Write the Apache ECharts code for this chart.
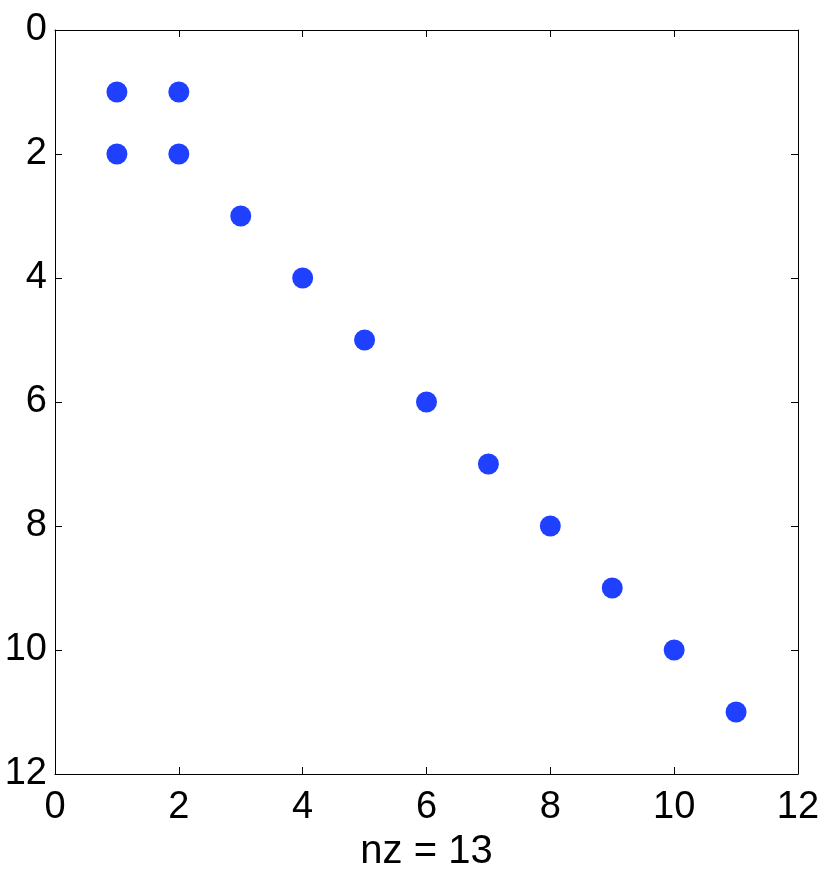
<!DOCTYPE html>
<html>
<head>
<meta charset="utf-8">
<script src="https://cdn.jsdelivr.net/npm/echarts@6/dist/echarts.min.js"></script>
<style>html,body{margin:0;padding:0;background:#fff}#c{width:830px;height:875px}</style>
</head>
<body>
<div id="c"></div>
<script>
// Nonzero pattern (column, row)
const cols = [1, 2, 1, 2, 3, 4, 5, 6, 7, 8, 9, 10, 11];
const rows = [1, 1, 2, 2, 3, 4, 5, 6, 7, 8, 9, 10, 11];
const xTicks = [0, 2, 4, 6, 8, 10, 12];
const yTicks = [0, 2, 4, 6, 8, 10, 12];
const xLabel = 'nz = 13';

const points = cols.map((c, i) => [c, rows[i]]);
const font = 'Liberation Sans, Arial, Helvetica, sans-serif';

const axisCommon = {
  type: 'value', min: 0, max: 12, interval: 2,
  axisLine: { show: true, onZero: false, lineStyle: { color: '#000', width: 1 } },
  axisTick: { show: true, inside: true, length: 7, lineStyle: { color: '#000', width: 1 } },
  splitLine: { show: false }
};

const chart = echarts.init(document.getElementById('c'));
chart.setOption({
  animation: false,
  backgroundColor: '#fff',
  grid: { left: 55, top: 30, right: 32, bottom: 101, containLabel: false, outerBoundsMode: 'none' },
  xAxis: [
    Object.assign({}, axisCommon, {
      position: 'bottom',
      name: xLabel, nameLocation: 'middle', nameGap: 53,
      nameTextStyle: { color: '#000', fontSize: 40, fontFamily: font },
      axisLabel: { color: '#000', fontSize: 38, fontFamily: font, margin: 15,
        formatter: v => xTicks.includes(v) ? String(v) : '' }
    }),
    Object.assign({}, axisCommon, { position: 'top', axisLabel: { show: false } })
  ],
  yAxis: [
    Object.assign({}, axisCommon, {
      position: 'left', inverse: true,
      axisLabel: { color: '#000', fontSize: 38, fontFamily: font, margin: 8,
        formatter: v => yTicks.includes(v) ? String(v) : '' }
    }),
    Object.assign({}, axisCommon, { position: 'right', inverse: true, axisLabel: { show: false } })
  ],
  series: [{
    type: 'scatter',
    xAxisIndex: 0, yAxisIndex: 0,
    data: points,
    symbol: 'circle',
    symbolSize: 21,
    itemStyle: { color: '#2040ff', opacity: 1 },
    silent: true
  }]
});
</script>
</body>
</html>
